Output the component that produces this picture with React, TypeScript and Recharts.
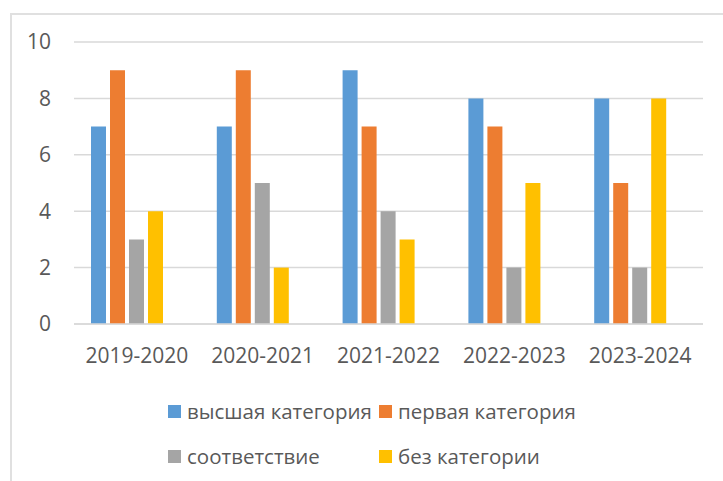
import React from 'react';
import { BarChart, Bar, XAxis, YAxis, CartesianGrid } from 'recharts';

const years = ['2019-2020', '2020-2021', '2021-2022', '2022-2023', '2023-2024'];
const highest = [7, 7, 9, 8, 8];
const first = [9, 9, 7, 7, 5];
const matching = [3, 5, 4, 2, 2];
const noCategory = [4, 2, 3, 5, 8];
const yTicks = [0, 2, 4, 6, 8, 10];

const series = [
  { key: 'highest', name: 'высшая категория', color: '#5B9BD5' },
  { key: 'first', name: 'первая категория', color: '#ED7D31' },
  { key: 'matching', name: 'соответствие', color: '#A5A5A5' },
  { key: 'noCategory', name: 'без категории', color: '#FFC000' },
];

// the source chart keeps an empty fifth slot in each group
const data = years.map((year, i) => ({
  year,
  highest: highest[i],
  first: first[i],
  matching: matching[i],
  noCategory: noCategory[i],
  spacer: null,
}));

const font = '"Open Sans", sans-serif';
const textColor = '#595959';

const LegendItem: React.FC<{ name: string; color: string; left: number; top: number }> = ({ name, color, left, top }) => (
  <div style={{ position: 'absolute', left, top, display: 'flex', alignItems: 'center', whiteSpace: 'nowrap' }}>
    <span style={{ width: 13, height: 13, background: color, display: 'inline-block', marginRight: 6 }} />
    <span style={{ fontFamily: font, fontSize: 20.5, color: textColor, lineHeight: '26px' }}>{name}</span>
  </div>
);

const App: React.FC = () => {
  return (
    <div style={{ position: 'absolute', left: 0, top: 0, width: 723, height: 481, overflow: 'hidden', background: '#fff' }}>
      <div style={{ position: 'absolute', left: 10, top: 13, width: 740, height: 500, border: '2px solid #e0e0e0' }} />
      <BarChart
        width={723}
        height={481}
        data={data}
        margin={{ top: 42, right: 20, left: 0, bottom: 97 }}
        barCategoryGap={17}
        barGap={4}
        style={{ position: 'absolute', left: 0, top: 0 }}
      >
        <CartesianGrid vertical={false} stroke="#d9d9d9" strokeWidth={1.5} />
        <XAxis
          dataKey="year"
          height={60}
          axisLine={{ stroke: '#d9d9d9', strokeWidth: 1.5 }}
          tickLine={false}
          tickSize={0}
          tickMargin={24}
          tick={{ fill: textColor, fontSize: 21, fontFamily: font }}
        />
        <YAxis
          width={74}
          domain={[0, 10]}
          ticks={yTicks}
          axisLine={false}
          tickLine={false}
          tickSize={0}
          tickMargin={23}
          tick={{ fill: textColor, fontSize: 21, fontFamily: font }}
        />
        {series.map((s) => (
          <Bar key={s.key} dataKey={s.key} name={s.name} fill={s.color} isAnimationActive={false} />
        ))}
        <Bar dataKey="spacer" fill="transparent" isAnimationActive={false} />
      </BarChart>
      <LegendItem name={series[0].name} color={series[0].color} left={168} top={398} />
      <LegendItem name={series[1].name} color={series[1].color} left={379} top={398} />
      <LegendItem name={series[2].name} color={series[2].color} left={168} top={443} />
      <LegendItem name={series[3].name} color={series[3].color} left={379} top={443} />
    </div>
  );
};

export default App;
